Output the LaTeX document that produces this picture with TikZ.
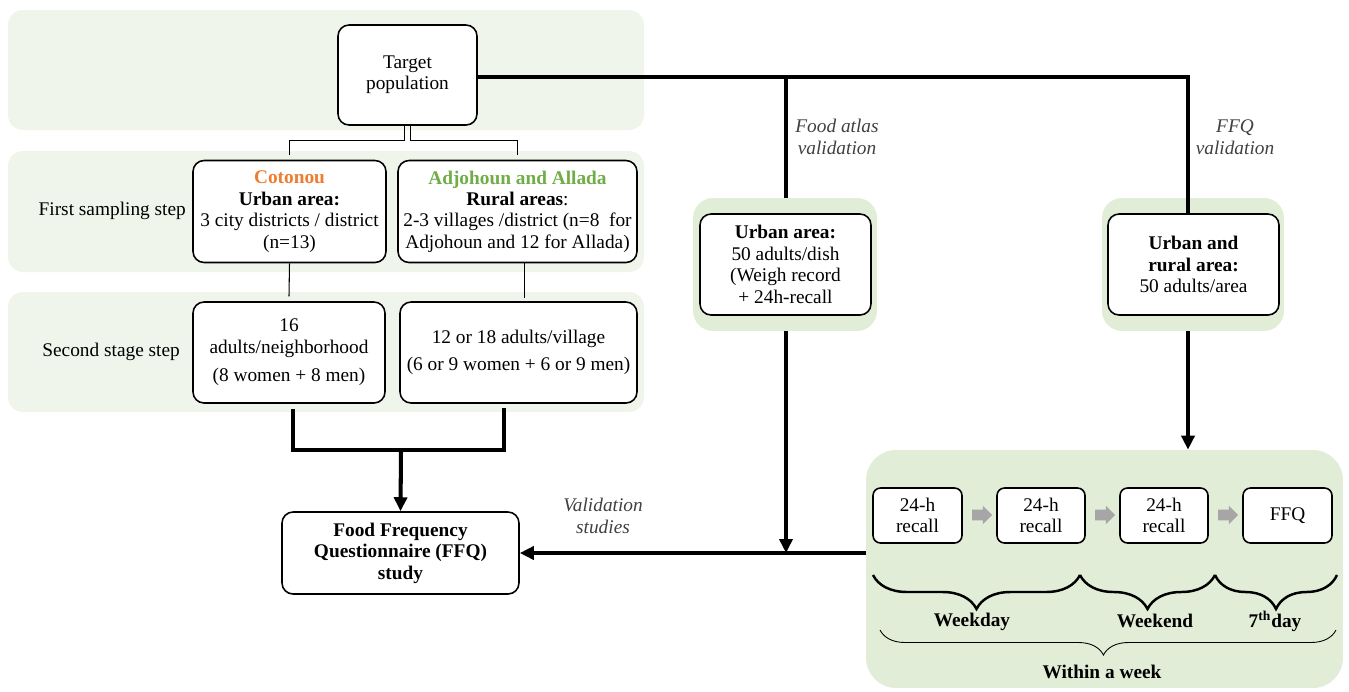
\documentclass[tikz,border=0pt]{standalone}
\usepackage{fontspec}
\setmainfont{Liberation Serif}
\usetikzlibrary{arrows.meta,shapes.arrows,decorations.pathreplacing}
\definecolor{bandgreen}{RGB}{240,245,235}
\definecolor{halogreen}{RGB}{226,237,215}
\definecolor{cotorange}{RGB}{237,125,49}
\definecolor{adjgreen}{RGB}{112,173,71}
\definecolor{arrowgray}{RGB}{166,166,166}
\definecolor{lblgray}{RGB}{64,64,64}

\begin{document}
\begin{tikzpicture}[x=0.02cm, y=-0.02cm,
    every node/.style={font=\fontsize{11}{12.2}\selectfont, align=center},
    box/.style={draw, line width=0.9pt, rounded corners=0.22cm, fill=white, inner sep=1pt},
    band/.style={fill=bandgreen, rounded corners=0.3cm},
    halo/.style={fill=halogreen, rounded corners=0.4cm, inner sep=0pt},
    thinlink/.style={line width=0.6pt},
    thicklink/.style={line width=2.3pt},
    arr/.style={thicklink, -{Triangle[length=0.28cm,width=0.26cm]}},
    grayarr/.style={single arrow, fill=arrowgray, minimum height=0.4cm, minimum width=0pt, inner sep=0.1cm, single arrow head extend=0.08cm, single arrow head indent=0pt},
    lbl/.style={font=\fontsize{11}{12.2}\selectfont\itshape, text=lblgray},
    bigbrace/.style={decorate, decoration={brace, mirror, amplitude=0.68cm}, line width=1.4pt},
    ]
    \useasboundingbox (0,0) rectangle (1349,691);

    % background bands
    \fill[band] (8,10) rectangle (644,130);
    \fill[band] (8,151) rectangle (644,272);
    \fill[band] (8,292) rectangle (644,412);

    % halos and the week panel
    \node[halo, minimum width=3.68cm, minimum height=2.66cm] (halo1) at (785,264.5) {};
    \node[halo, minimum width=3.64cm, minimum height=2.66cm] (halo2) at (1193,264.5) {};
    \node[halo, rounded corners=0.6cm, minimum width=9.54cm, minimum height=4.76cm] (panel) at (1104.5,569) {};

    % boxes
    \node[box, minimum width=2.78cm, minimum height=2cm] (target) at (407.5,75) {Target\\population};
    \node[box, minimum width=3.86cm, minimum height=2.04cm] (cotonou) at (289.5,211.5)
        {\textcolor{cotorange}{\textbf{Cotonou}}\\ \textbf{Urban area:}\\ 3 city districts / district\\ (n=13)};
    \node[box, minimum width=4.78cm, minimum height=2.04cm] (adjo) at (517.5,211.5)
        {\textcolor{adjgreen}{\textbf{Adjohoun and Allada}}\\ \textbf{Rural areas}:\\ 2-3 villages /district (n=8~ for\\ Adjohoun and 12 for Allada)};
    \node[box, minimum width=3.84cm, minimum height=2.02cm] (sec1) at (289,352.5)
        {16\\ adults/neighborhood\\[4pt] (8 women + 8 men)};
    \node[box, minimum width=4.74cm, minimum height=2.02cm] (sec2) at (518.5,352.5)
        {12 or 18 adults/village\\[3pt] (6 or 9 women + 6 or 9 men)};
    \node[box, minimum width=4.74cm, minimum height=1.64cm] (ffq) at (400.5,553)
        {\textbf{Food Frequency}\\ \textbf{Questionnaire (FFQ)}\\ \textbf{study}};
    \node[box, minimum width=3.42cm, minimum height=2.02cm] (urban) at (785.5,264.5)
        {\textbf{Urban area:}\\ 50 adults/dish\\ (Weigh record\\ + 24h-recall};
    \node[box, minimum width=3.42cm, minimum height=2.02cm] (urbrur) at (1193.5,264.5)
        {\textbf{Urban and}\\ \textbf{rural area:}\\ 50 adults/area};

    % week steps
    \node[box, rounded corners=0.15cm, minimum width=1.78cm, minimum height=1.1cm] (r1) at (917.5,515.5) {24-h\\recall};
    \node[box, rounded corners=0.15cm, minimum width=1.76cm, minimum height=1.1cm] (r2) at (1041,515.5) {24-h\\recall};
    \node[box, rounded corners=0.15cm, minimum width=1.76cm, minimum height=1.1cm] (r3) at (1164,515.5) {24-h\\recall};
    \node[box, rounded corners=0.15cm, minimum width=1.78cm, minimum height=1.1cm] (ffqd) at (1287.5,515.5) {FFQ};
    \node[grayarr] (g1) at (979.5,515) {};
    \node[grayarr] (g2) at (1102.5,515) {};
    \node[grayarr] (g3) at (1225.5,515) {};

    % side labels
    \node[anchor=east] (s1) at (192,211) {First sampling step};
    \node[anchor=east] (s2) at (186,352) {Second stage step};
    \node[lbl] (fal) at (837,137) {Food atlas\\validation};
    \node[lbl] (ffql) at (1235,137) {FFQ\\validation};
    \node[lbl] (vsl) at (603,516) {Validation\\studies};

    % thin links of the sampling tree
    \draw[thinlink] ([xshift=-1.7pt]target.south) -- ++(0,15) -| ([yshift=2.8pt]cotonou.north);
    \draw[thinlink] ([xshift=1.7pt]target.south) -- ++(0,15) -| ([yshift=2.8pt]adjo.north);
    \draw[thinlink] (cotonou.south) -- ([yshift=2.8pt]sec1.north);
    \draw[thinlink] ([xshift=4pt]adjo.south) -- ++(0,35);

    % thick links
    \coordinate (jl) at (786,77);
    \coordinate (jr) at (1188,77);
    \coordinate (sl) at (293,409);
    \coordinate (sr) at (504,408);
    \coordinate (sm) at (401,450);
    \draw[thicklink] (target.east |- jr) -- (jr) -- (jr |- urbrur.north);
    \draw[thicklink] (jl) -- (jl |- halo1.north);
    \draw[thicklink] (sl) |- (sm) -| (sr);
    \draw[arr] (sm) -- (ffq.north);
    \draw[arr] (halo1.south -| jl) -- (jl |- ffq.east);
    \draw[arr] (panel.west |- ffq.east) -- (ffq.east);
    \draw[arr] (jr |- halo2.south) -- (jr |- panel.north);

    % braces
    \draw[bigbrace] (873,575) -- (1080,575);
    \draw[bigbrace] (1080,575) -- (1215,575);
    \draw[bigbrace] (1215,575) -- (1337,575);
    \draw[decorate, decoration={brace, mirror, amplitude=0.5cm, aspect=0.49}, line width=0.5pt] (880,630) -- (1336,630);
    \node (wd) at (972,622) {\textbf{Weekday}};
    \node (we) at (1155,621) {\textbf{Weekend}};
    \node (d7) at (1275,621) {\textbf{7\textsuperscript{th}day}};
    \node (wk) at (1102,672) {\textbf{Within a week}};
\end{tikzpicture}
\end{document}
